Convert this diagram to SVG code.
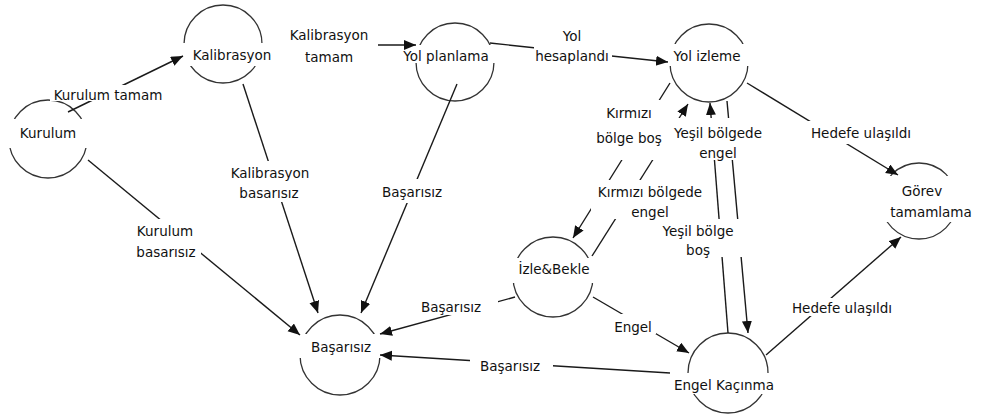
<svg xmlns="http://www.w3.org/2000/svg" width="981" height="416" viewBox="0 0 981 416">
<defs>
<style>
.c{fill:none;stroke:#333;stroke-width:1.3}
.bg{fill:#fff;stroke:none}
.e{fill:none;stroke:#1a1a1a;stroke-width:1.4;marker-end:url(#ah)}
text{font-family:"DejaVu Sans","Liberation Sans",sans-serif;font-size:13.5px;fill:#111;text-anchor:middle}
</style>
<marker id="ah" markerUnits="userSpaceOnUse" markerWidth="13" markerHeight="11" refX="12" refY="5" orient="auto">
<path d="M0,0 L12,5 L0,10 z" fill="#111"/>
</marker>
</defs>
<rect width="981" height="416" fill="#fff"/>

<g id="kurulum">
<circle class="c" cx="48" cy="139" r="39"/>
<rect class="bg" x="5" y="119" width="86" height="29"/>
<text x="48" y="138">Kurulum</text>
</g>
<g id="kalibrasyon">
<circle class="c" cx="223" cy="44" r="39"/>
<rect class="bg" x="180" y="43" width="98" height="23"/>
<text x="232" y="60">Kalibrasyon</text>
</g>
<g id="yol-planlama">
<circle class="c" cx="455" cy="62" r="39"/>
<rect class="bg" x="396" y="45" width="102" height="18"/>
<text x="446" y="61">Yol planlama</text>
</g>
<g id="yol-izleme">
<circle class="c" cx="709" cy="63" r="39"/>
<rect class="bg" x="666" y="44" width="83" height="22"/>
<text x="707" y="61">Yol izleme</text>
</g>
<g id="gorev-tamamlama">
<circle class="c" cx="919" cy="201" r="38"/>
<rect class="bg" x="878" y="176" width="103" height="46"/>
<text x="922" y="196">Görev</text>
<text x="931" y="217">tamamlama</text>
</g>
<g id="izle-bekle">
<circle class="c" cx="553" cy="277" r="40"/>
<rect class="bg" x="510" y="258" width="87" height="25"/>
<text x="554" y="274">İzle&amp;Bekle</text>
</g>
<g id="basarisiz">
<circle class="c" cx="340" cy="355" r="40"/>
<rect class="bg" x="297" y="334" width="86" height="24"/>
<text x="341" y="352">Başarısız</text>
</g>
<g id="engel-kacinma">
<circle class="c" cx="728" cy="373" r="40"/>
<rect class="bg" x="668" y="373" width="114" height="21"/>
<text x="724" y="390">Engel Kaçınma</text>
</g>

<g id="connectors">
<line class="e" x1="68" y1="112" x2="183" y2="56"/>
<line class="e" x1="280" y1="45" x2="416" y2="45"/>
<line class="e" x1="490" y1="43" x2="668" y2="62"/>
<line class="e" x1="747" y1="83" x2="898" y2="175"/>
<line class="e" x1="766" y1="355" x2="901" y2="237"/>
<line class="e" x1="243" y1="84" x2="318" y2="313"/>
<line class="e" x1="457" y1="84" x2="361" y2="313"/>
<line class="e" x1="88" y1="160" x2="300" y2="335"/>
<line class="e" x1="515" y1="297" x2="380" y2="334"/>
<line class="e" x1="670" y1="373" x2="380" y2="355"/>
<line class="e" x1="593" y1="297" x2="689" y2="353"/>
<line class="e" x1="670" y1="83" x2="573" y2="238"/>
<line class="e" x1="592" y1="256" x2="688" y2="104"/>
<line class="e" x1="728" y1="333" x2="710" y2="103"/>
<line class="e" x1="727" y1="101" x2="748" y2="333"/>

<g id="labels">
<rect class="bg" x="50" y="85" width="119" height="16"/>
<text x="108" y="100">Kurulum tamam</text>

<rect class="bg" x="280" y="26" width="98" height="40"/>
<text x="329" y="40">Kalibrasyon</text>
<text x="329" y="62">tamam</text>

<rect class="bg" x="534" y="27" width="78" height="38"/>
<text x="572" y="41">Yol</text>
<text x="572" y="61">hesaplandı</text>

<rect class="bg" x="805" y="121" width="112" height="23"/>
<text x="861" y="138">Hedefe ulaşıldı</text>

<rect class="bg" x="786" y="298" width="111" height="18"/>
<text x="842" y="313">Hedefe ulaşıldı</text>

<rect class="bg" x="225" y="161" width="90" height="41"/>
<text x="270" y="178">Kalibrasyon</text>
<text x="269" y="198">basarısız</text>

<rect class="bg" x="378" y="179" width="67" height="24"/>
<text x="412" y="197">Başarısız</text>

<rect class="bg" x="131" y="219" width="70" height="40"/>
<text x="165" y="236">Kurulum</text>
<text x="166" y="257">basarısız</text>

<rect class="bg" x="416" y="299" width="82" height="16"/>
<text x="451" y="312">Başarısız</text>

<rect class="bg" x="470" y="358" width="83" height="15"/>
<text x="510" y="371">Başarısız</text>

<rect class="bg" x="612" y="314" width="44" height="20"/>
<text x="633" y="332">Engel</text>

<rect class="bg" x="593" y="100" width="76" height="60"/>
<text x="629" y="118">Kırmızı</text>
<text x="629" y="143">bölge boş</text>

<rect class="bg" x="668" y="118" width="101" height="42"/>
<text x="718" y="138">Yeşil bölgede</text>
<text x="718" y="158">engel</text>

<rect class="bg" x="591" y="180" width="118" height="39"/>
<text x="650" y="197">Kırmızı bölgede</text>
<text x="650" y="217">engel</text>

<rect class="bg" x="657" y="219" width="87" height="38"/>
<text x="698" y="236">Yeşil bölge</text>
<text x="698" y="255">boş</text>
</g>
</g>
</svg>
